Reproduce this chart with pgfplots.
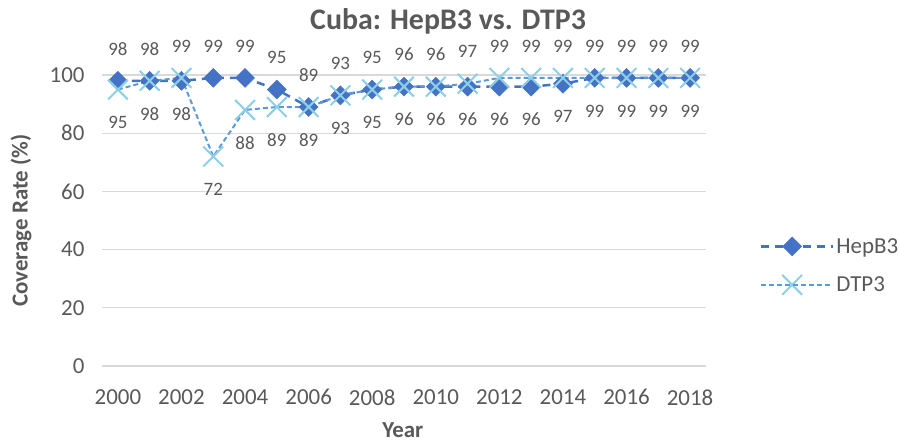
\documentclass[border=0pt]{standalone}
\usepackage{pgfplots}
\pgfplotsset{compat=1.18}
\usepackage{fontspec}
\setmainfont{Carlito}
\definecolor{txt}{HTML}{595959}
\definecolor{hep}{HTML}{4472C4}
\definecolor{dtpl}{HTML}{5B9BD5}
\definecolor{dtpm}{HTML}{8DCFE6}
\definecolor{grd}{HTML}{D9D9D9}
\pgfplotsset{longleg/.style={legend image code/.code={\draw[mark repeat=2,mark phase=2,##1] plot coordinates {(0bp,0bp) (31bp,0bp) (63bp,0bp)}; \path (0bp,0bp) -- (72bp,0bp);}}}
\begin{document}
\begin{tikzpicture}
\useasboundingbox (-102bp,-78bp) rectangle (797bp,366bp);
\begin{axis}[
  at={(0,0)}, anchor=south west,
  scale only axis, width=604bp, height=291bp,
  xmin=1999.5, xmax=2018.5, ymin=0, ymax=100,
  xtick={2000,2002,...,2018}, ytick={0,20,...,100},
  ymajorgrids, grid style={grd, line width=1.2bp},
  axis line style={draw=none},
  major tick length=0pt,
  tick label style={font=\fontsize{23}{27}\selectfont, text=txt},
  /pgf/number format/assume math mode=true,
  /pgf/number format/1000 sep={},
  xticklabel style={yshift=-20bp},
  yticklabel style={xshift=-14bp},
  clip=false,
  xlabel={Year}, ylabel={Coverage Rate (\%)},
  xlabel style={font=\bfseries\fontsize{23}{27}\selectfont, text=txt, inner sep=0pt, at={(axis description cs:0.498,-0.222)}, anchor=center},
  ylabel style={font=\bfseries\fontsize{23}{27}\selectfont, text=txt, at={(axis description cs:-0.134,0.5)}, anchor=center},
  title={Cuba: HepB3 vs. DTP3},
  title style={font=\bfseries\fontsize{30}{34}\selectfont, text=txt, at={(axis description cs:0.573,1.135)}, anchor=base},
  legend style={at={(axis description cs:1.084,0.345)}, anchor=west, draw=none, fill=none, font=\fontsize{23}{27}\selectfont, text=txt, row sep=18bp},
  legend cell align=left,
  longleg,
]
\addplot[hep, line width=2.5bp, dash pattern=on 8bp off 6bp, mark=square*, mark size=6.7bp, mark options={solid, rotate=45, fill=hep, draw=hep, line width=0.5bp}]
coordinates {(2000,98)(2001,98)(2002,98)(2003,99)(2004,99)(2005,95)(2006,89)(2007,93)(2008,95)(2009,96)(2010,96)(2011,96)(2012,96)(2013,96)(2014,97)(2015,99)(2016,99)(2017,99)(2018,99)};
\addlegendentry{HepB3}
\addplot[dtpl, line width=2bp, dash pattern=on 5bp off 3bp, mark=x, mark size=14bp, mark options={solid, draw=dtpm, line width=2bp}]
coordinates {(2000,95)(2001,98)(2002,99)(2003,72)(2004,88)(2005,89)(2006,89)(2007,93)(2008,95)(2009,96)(2010,96)(2011,97)(2012,99)(2013,99)(2014,99)(2015,99)(2016,99)(2017,99)(2018,99)};
\addlegendentry{DTP3}
\addplot[draw=none, forget plot, nodes near coords={\pgfmathprintnumber[assume math mode=true]{\pgfplotspointmeta}},
  every node near coord/.append style={font=\fontsize{19}{23}\selectfont, text=txt, anchor=center, yshift=32bp}]
coordinates {(2000,98)(2001,98)(2002,99)(2003,99)(2004,99)(2005,95)(2006,89)(2007,93)(2008,95)(2009,96)(2010,96)(2011,97)(2012,99)(2013,99)(2014,99)(2015,99)(2016,99)(2017,99)(2018,99)};
\addplot[draw=none, forget plot, nodes near coords={\pgfmathprintnumber[assume math mode=true]{\pgfplotspointmeta}},
  every node near coord/.append style={font=\fontsize{19}{23}\selectfont, text=txt, anchor=center, yshift=-33bp}]
coordinates {(2000,95)(2001,98)(2002,98)(2003,72)(2004,88)(2005,89)(2006,89)(2007,93)(2008,95)(2009,96)(2010,96)(2011,96)(2012,96)(2013,96)(2014,97)(2015,99)(2016,99)(2017,99)(2018,99)};
\end{axis}
\end{tikzpicture}
\end{document}
